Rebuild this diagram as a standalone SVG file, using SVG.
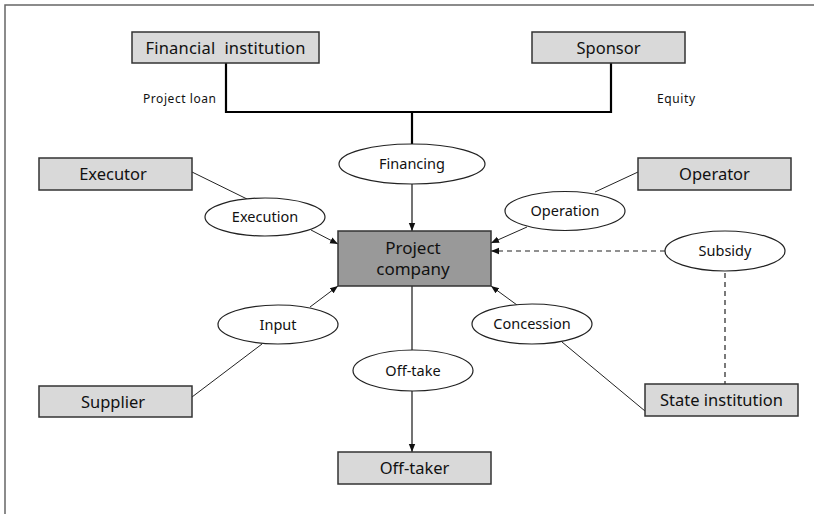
<svg xmlns="http://www.w3.org/2000/svg" width="814" height="514" viewBox="0 0 814 514">
  <defs>
    <marker id="arrow" markerUnits="userSpaceOnUse" markerWidth="8" markerHeight="8" viewBox="0 0 8 8" refX="8" refY="4" orient="auto">
      <path d="M0,0.8 L8,4 L0,7.2 Z" fill="#111"/>
    </marker>
  </defs>
  <style>
    text { font-family: "Noto Sans", "Open Sans", "Liberation Sans", sans-serif; fill: #111; }
    .box { fill: #d9d9d9; stroke: #333; stroke-width: 1.5; }
    .core { fill: #999999; stroke: #333; stroke-width: 1.5; }
    .oval { fill: #ffffff; stroke: #222; stroke-width: 1.2; }
    .big { font-size: 16.5px; text-anchor: middle; }
    .mid { font-size: 14.5px; text-anchor: middle; }
    .small { font-size: 12px; }
    .thick { fill: none; stroke: #000; stroke-width: 2.2; }
    .thin { fill: none; stroke: #222; stroke-width: 1; }
    .gray { fill: none; stroke: #444; stroke-width: 1.5; }
    .dash { fill: none; stroke: #222; stroke-width: 1.2; stroke-dasharray: 5 4; }
    .frame { fill: none; stroke: #666; stroke-width: 1.5; }
  </style>

  <!-- page frame -->
  <path class="frame" d="M5,514 V5 H814"/>

  <!-- connectors -->
  <g id="connectors">
    <path class="thick" d="M226,63 V112 H611 V63"/>
    <path class="thick" d="M412,112 V144"/>
    <path class="gray" d="M412,184 V231" marker-end="url(#arrow)"/>
    <path class="thin" d="M192,172 L247,199"/>
    <path class="thin" d="M311,230 L338,244" marker-end="url(#arrow)"/>
    <path class="thin" d="M638,172 L595,192"/>
    <path class="thin" d="M527,227 L491,243" marker-end="url(#arrow)"/>
    <path class="dash" d="M665,251 H491" marker-end="url(#arrow)"/>
    <path class="dash" d="M725,273 V384"/>
    <path class="thin" d="M517,305 L491,286" marker-end="url(#arrow)"/>
    <path class="thin" d="M562,342 L645,411"/>
    <path class="thin" d="M310,307 L338,286" marker-end="url(#arrow)"/>
    <path class="thin" d="M262,344 L192,397"/>
    <path class="gray" d="M412,286 V350"/>
    <path class="gray" d="M412,391 V452" marker-end="url(#arrow)"/>
  </g>

  <!-- flow labels -->
  <text class="small" x="143" y="103" textLength="73" lengthAdjust="spacing">Project loan</text>
  <text class="small" x="657" y="103" textLength="38" lengthAdjust="spacing">Equity</text>

  <!-- parties -->
  <g id="financial-institution">
    <rect class="box" x="132" y="32" width="187" height="31"/>
    <text class="big" x="225.5" y="53.5" xml:space="preserve" textLength="160" lengthAdjust="spacing">Financial  institution</text>
  </g>
  <g id="sponsor">
    <rect class="box" x="532" y="32" width="153" height="31"/>
    <text class="big" x="608.5" y="53.5">Sponsor</text>
  </g>
  <g id="executor">
    <rect class="box" x="39" y="158" width="153" height="32"/>
    <text class="big" x="113" y="180">Executor</text>
  </g>
  <g id="operator">
    <rect class="box" x="638" y="158" width="153" height="32"/>
    <text class="big" x="714.5" y="180">Operator</text>
  </g>
  <g id="project-company">
    <rect class="core" x="338" y="231" width="153" height="55"/>
    <text class="big" x="413" y="254" style="font-size:17px">Project</text>
    <text class="big" x="413" y="275" style="font-size:17px">company</text>
  </g>
  <g id="supplier">
    <rect class="box" x="39" y="386" width="153" height="31"/>
    <text class="big" x="113" y="407.5">Supplier</text>
  </g>
  <g id="state-institution">
    <rect class="box" x="645" y="384" width="153" height="32"/>
    <text class="big" x="721.5" y="406">State institution</text>
  </g>
  <g id="off-taker">
    <rect class="box" x="338" y="452" width="153" height="32"/>
    <text class="big" x="414.5" y="474">Off-taker</text>
  </g>

  <!-- relations -->
  <g id="financing">
    <ellipse class="oval" cx="412" cy="164" rx="73" ry="20"/>
    <text class="mid" x="412" y="169">Financing</text>
  </g>
  <g id="execution">
    <ellipse class="oval" cx="265" cy="217" rx="60" ry="19"/>
    <text class="mid" x="265" y="222">Execution</text>
  </g>
  <g id="operation">
    <ellipse class="oval" cx="565" cy="211" rx="60" ry="19.5"/>
    <text class="mid" x="565" y="216">Operation</text>
  </g>
  <g id="subsidy">
    <ellipse class="oval" cx="725" cy="251" rx="60" ry="20"/>
    <text class="mid" x="725" y="256">Subsidy</text>
  </g>
  <g id="input">
    <ellipse class="oval" cx="278" cy="324.5" rx="60" ry="19.5"/>
    <text class="mid" x="278" y="329.5">Input</text>
  </g>
  <g id="concession">
    <ellipse class="oval" cx="532" cy="324" rx="60" ry="20"/>
    <text class="mid" x="532" y="329">Concession</text>
  </g>
  <g id="off-take">
    <ellipse class="oval" cx="413" cy="370.5" rx="60" ry="20.5"/>
    <text class="mid" x="413" y="375.5">Off-take</text>
  </g>
</svg>
